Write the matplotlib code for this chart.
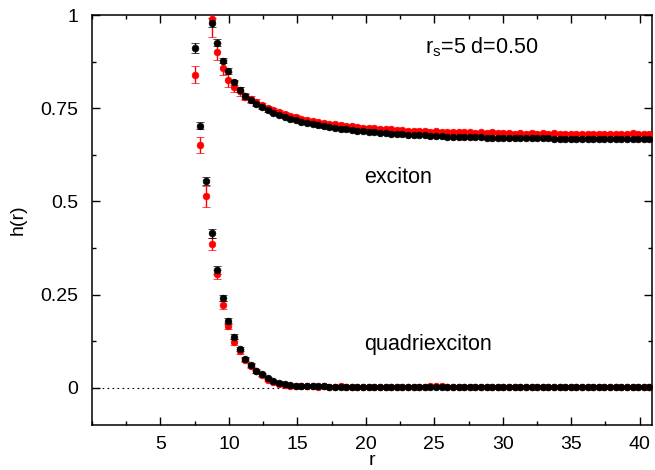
import numpy as np
import matplotlib
matplotlib.use("Agg")
import matplotlib.pyplot as plt
from matplotlib.ticker import MultipleLocator, FixedLocator

plt.rcParams['font.family'] = ['Liberation Sans', 'DejaVu Sans']
plt.rcParams['mathtext.fontset'] = 'custom'
plt.rcParams['mathtext.rm'] = 'Liberation Sans'
plt.rcParams['mathtext.it'] = 'Liberation Sans'

# radial grid of the histogram
r0, dr, n_pts = 7.5, 0.41, 82
r = np.round(r0 + dr * np.arange(n_pts), 2)
r_exc = r[3:]

# exciton channel, black set
exc_black = [0.979, 0.926, 0.878, 0.850, 0.820, 0.800, 0.782, 0.771, 0.762, 0.753,
             0.745, 0.738, 0.732, 0.727, 0.722, 0.718, 0.714, 0.710, 0.707, 0.704,
             0.701, 0.699, 0.697, 0.695, 0.693, 0.691, 0.689, 0.688, 0.686, 0.685,
             0.684, 0.683, 0.682, 0.681, 0.680, 0.679, 0.678, 0.677, 0.677, 0.676,
             0.675, 0.675, 0.674, 0.674, 0.673, 0.673, 0.672, 0.672, 0.672, 0.671,
             0.671, 0.671, 0.670, 0.670, 0.670, 0.670, 0.669, 0.669, 0.669, 0.669,
             0.669, 0.668, 0.668, 0.668, 0.668, 0.668, 0.668, 0.668, 0.667, 0.667,
             0.667, 0.667, 0.667, 0.667, 0.667, 0.667, 0.667, 0.667, 0.667]
exc_black_err = [0.012, 0.010, 0.008, 0.008, 0.007, 0.006, 0.006, 0.005, 0.005, 0.004,
                 0.004, 0.004, 0.004, 0.003, 0.003, 0.003, 0.003, 0.003, 0.003, 0.003,
                 0.003, 0.003, 0.003, 0.003, 0.003, 0.002, 0.002, 0.002, 0.002, 0.002,
                 0.002, 0.002, 0.002, 0.002, 0.002, 0.002, 0.002, 0.002, 0.002, 0.002,
                 0.002, 0.002, 0.002, 0.002, 0.002, 0.002, 0.002, 0.002, 0.002, 0.002,
                 0.002, 0.002, 0.002, 0.002, 0.002, 0.002, 0.002, 0.002, 0.002, 0.002,
                 0.002, 0.002, 0.002, 0.002, 0.002, 0.002, 0.002, 0.002, 0.002, 0.002,
                 0.002, 0.002, 0.002, 0.002, 0.002, 0.002, 0.002, 0.002, 0.002]

# exciton channel, red set
exc_red = [0.990, 0.902, 0.859, 0.826, 0.808, 0.795, 0.781, 0.774, 0.766, 0.758,
           0.751, 0.744, 0.739, 0.734, 0.730, 0.726, 0.722, 0.718, 0.715, 0.713,
           0.710, 0.708, 0.707, 0.704, 0.703, 0.701, 0.700, 0.698, 0.697, 0.696,
           0.695, 0.693, 0.693, 0.691, 0.691, 0.689, 0.690, 0.688, 0.689, 0.687,
           0.688, 0.686, 0.687, 0.686, 0.687, 0.685, 0.686, 0.684, 0.685, 0.684,
           0.685, 0.684, 0.683, 0.684, 0.682, 0.683, 0.682, 0.684, 0.682, 0.683,
           0.682, 0.683, 0.681, 0.682, 0.681, 0.682, 0.681, 0.680, 0.682, 0.681,
           0.680, 0.682, 0.681, 0.680, 0.682, 0.683, 0.681, 0.682, 0.681]
exc_red_err = [0.050, 0.022, 0.020, 0.020, 0.015, 0.012, 0.010, 0.009, 0.008, 0.007,
               0.006, 0.006, 0.005, 0.005, 0.005, 0.005, 0.004, 0.004, 0.004, 0.004,
               0.004, 0.004, 0.004, 0.004, 0.004, 0.004, 0.004, 0.004, 0.004, 0.004,
               0.004, 0.004, 0.004, 0.004, 0.004, 0.004, 0.004, 0.004, 0.004, 0.004,
               0.004, 0.004, 0.004, 0.004, 0.004, 0.004, 0.004, 0.004, 0.004, 0.004,
               0.004, 0.004, 0.004, 0.004, 0.004, 0.004, 0.004, 0.004, 0.004, 0.004,
               0.004, 0.004, 0.004, 0.004, 0.004, 0.004, 0.004, 0.004, 0.004, 0.004,
               0.004, 0.004, 0.004, 0.004, 0.004, 0.004, 0.004, 0.004, 0.004]

# quadriexciton channel, black set
quad_black = [0.912, 0.703, 0.5545, 0.414, 0.316, 0.240, 0.179, 0.137, 0.104, 0.078,
              0.062, 0.044, 0.036, 0.026, 0.019, 0.014, 0.010, 0.007, 0.006, 0.005,
              0.005, 0.004, 0.004, 0.004, 0.003, 0.003, 0.003, 0.003, 0.002, 0.002,
              0.002, 0.002, 0.002, 0.002, 0.002, 0.002, 0.002, 0.001, 0.001, 0.001,
              0.001, 0.001, 0.001, 0.001, 0.001, 0.001, 0.001, 0.001, 0.001, 0.001,
              0.001, 0.001, 0.001, 0.001, 0.001, 0.001, 0.001, 0.001, 0.001, 0.001,
              0.001, 0.001, 0.001, 0.001, 0.001, 0.001, 0.001, 0.001, 0.001, 0.001,
              0.001, 0.001, 0.001, 0.001, 0.001, 0.001, 0.001, 0.001, 0.001, 0.001,
              0.001, 0.001]
quad_black_err = [0.013, 0.010, 0.011, 0.012, 0.010, 0.008, 0.007, 0.007, 0.006, 0.005,
                  0.005, 0.004, 0.004, 0.003, 0.003, 0.003, 0.002, 0.002, 0.002, 0.002,
                  0.002, 0.002, 0.002, 0.002, 0.002, 0.002, 0.002, 0.002, 0.002, 0.002,
                  0.002, 0.002, 0.002, 0.002, 0.002, 0.002, 0.002, 0.002, 0.002, 0.002,
                  0.002, 0.002, 0.002, 0.002, 0.002, 0.002, 0.002, 0.002, 0.002, 0.002,
                  0.002, 0.002, 0.002, 0.002, 0.002, 0.002, 0.002, 0.002, 0.002, 0.002,
                  0.002, 0.002, 0.002, 0.002, 0.002, 0.002, 0.002, 0.002, 0.002, 0.002,
                  0.002, 0.002, 0.002, 0.002, 0.002, 0.002, 0.002, 0.002, 0.002, 0.002,
                  0.002, 0.002]

# quadriexciton channel, red set
quad_red = [0.840, 0.651, 0.5135, 0.386, 0.304, 0.222, 0.166, 0.124, 0.098, 0.075,
            0.058, 0.045, 0.033, 0.022, 0.016, 0.011, 0.008, 0.006, 0.005, 0.005,
            0.004, 0.004, 0.003, 0.004, 0.003, 0.003, 0.004, 0.003, 0.003, 0.003,
            0.002, 0.003, 0.003, 0.002, 0.003, 0.002, 0.003, 0.002, 0.002, 0.003,
            0.002, 0.003, 0.004, 0.005, 0.004, 0.003, 0.002, 0.002, 0.003, 0.002,
            0.002, 0.002, 0.003, 0.002, 0.002, 0.002, 0.002, 0.002, 0.002, 0.002,
            0.002, 0.002, 0.002, 0.002, 0.001, 0.002, 0.002, 0.001, 0.002, 0.001,
            0.001, 0.002, 0.001, 0.001, 0.001, 0.001, 0.001, 0.001, 0.001, 0.001,
            0.001, 0.001]
quad_red_err = [0.022, 0.021, 0.028, 0.016, 0.012, 0.010, 0.009, 0.008, 0.007, 0.006,
                0.005, 0.005, 0.004, 0.004, 0.003, 0.003, 0.003, 0.003, 0.003, 0.003,
                0.003, 0.003, 0.003, 0.003, 0.003, 0.003, 0.003, 0.003, 0.003, 0.003,
                0.003, 0.003, 0.003, 0.003, 0.003, 0.003, 0.003, 0.003, 0.003, 0.003,
                0.003, 0.003, 0.003, 0.003, 0.003, 0.003, 0.003, 0.003, 0.003, 0.003,
                0.003, 0.003, 0.003, 0.003, 0.003, 0.003, 0.003, 0.003, 0.003, 0.003,
                0.003, 0.003, 0.003, 0.003, 0.003, 0.003, 0.003, 0.003, 0.003, 0.003,
                0.003, 0.003, 0.003, 0.003, 0.003, 0.003, 0.003, 0.003, 0.003, 0.003,
                0.003, 0.003]

x_ticks = [5, 10, 15, 20, 25, 30, 35, 40]
y_ticks = [0, 0.25, 0.5, 0.75, 1]
y_tick_labels = ['0', '0.25', '0.5', '0.75', '1']


def draw_set(ax, x, y, yerr, color):
    ax.errorbar(x, y, yerr=yerr, fmt='o', color=color, ecolor=color,
                markersize=4.8, markeredgecolor=color, markeredgewidth=0.5,
                elinewidth=1.0, capsize=2.6, capthick=1.0, zorder=3)


def main():
    fig = plt.figure(figsize=(6.55, 4.70), dpi=100)
    ax = fig.add_axes([0.1405, 0.0957, 0.8549, 0.8723])

    ax.axhline(0, color='black', lw=0.8, ls=(0, (1.5, 3)), zorder=1)

    draw_set(ax, r, quad_red, quad_red_err, 'red')
    draw_set(ax, r_exc, exc_red, exc_red_err, 'red')
    draw_set(ax, r, quad_black, quad_black_err, 'black')
    draw_set(ax, r_exc, exc_black, exc_black_err, 'black')

    ax.set_xlim(0, 40.9)
    ax.set_ylim(-0.1, 1)
    ax.xaxis.set_major_locator(FixedLocator(x_ticks))
    ax.xaxis.set_minor_locator(MultipleLocator(2.5))
    ax.set_yticks(y_ticks)
    ax.set_yticklabels(y_tick_labels)
    ax.yaxis.set_minor_locator(MultipleLocator(0.125))
    ax.tick_params(which='both', direction='in', top=True, right=True,
                   labelsize=14, width=1.0)
    ax.tick_params(which='major', length=6, pad=8)
    ax.tick_params(axis='y', which='major', pad=10)
    ax.tick_params(which='minor', length=3)
    for s in ax.spines.values():
        s.set_linewidth(1.1)

    ax.set_xlabel('r', fontsize=14, labelpad=-1)
    ax.set_ylabel('h(r)', fontsize=14, labelpad=10)

    ax.text(24.3, 0.913, r'r$_\mathregular{s}$=5 d=0.50', fontsize=15.5, va='center')
    ax.text(19.9, 0.563, 'exciton', fontsize=15.5, va='center')
    ax.text(19.9, 0.115, 'quadriexciton', fontsize=15.5, va='center')

    fig.savefig('out.png', dpi=100)


if __name__ == '__main__':
    main()
